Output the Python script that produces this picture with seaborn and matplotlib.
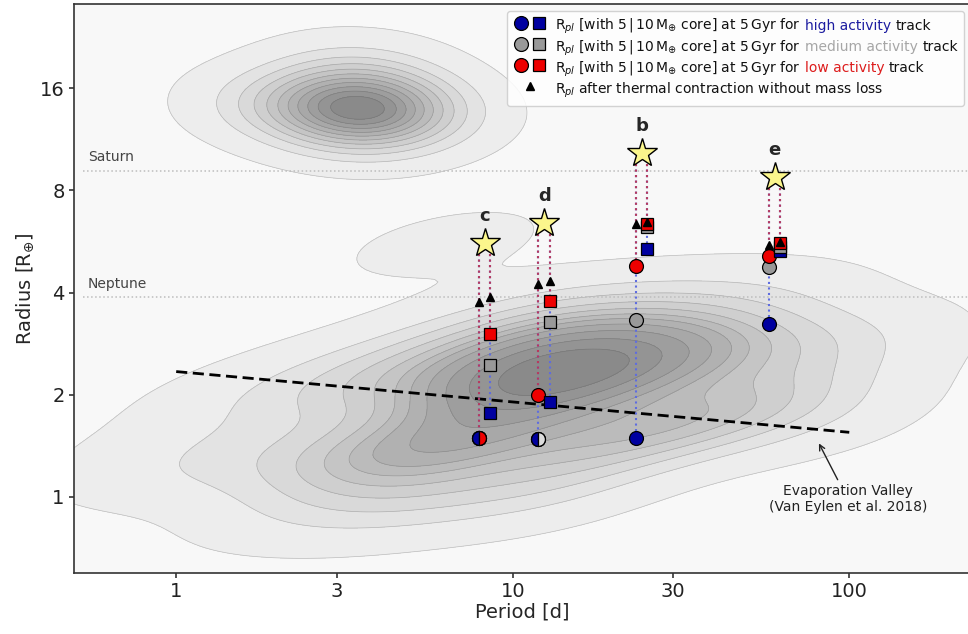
import numpy as np
import pandas as pd
import matplotlib
matplotlib.use("Agg")
import matplotlib.pyplot as plt
import seaborn as sns
from matplotlib.lines import Line2D
from matplotlib.colors import ListedColormap, BoundaryNorm
from matplotlib.ticker import NullLocator, FixedLocator, FixedFormatter
from matplotlib.offsetbox import AnchoredOffsetbox, HPacker, VPacker, TextArea, DrawingArea

# ---------------- data ----------------
# approximate population centres of the background exoplanet density map
# giant planets (hot Jupiters)
giant_period = [3.45, 2.05, 4.75, 3.45, 3.45]
giant_radius = [14.0, 14.3, 13.9, 17.5, 12.3]
giant_weight = [5, 1.0, 1.0, 1.0, 1.0]
# small planets (super-Earths and sub-Neptunes)
small_period = [13.4, 10, 18,
                3.5, 6, 1.5, 0.8,
                5, 12, 2.5,
                30, 55, 100, 40, 80,
                6, 12, 25, 50, 4,
                20, 10,
                3, 1.5, 60, 30,
                5.5, 8]
small_radius = [2.33, 2.2, 2.4,
                1.3, 1.45, 1.3, 1.25,
                1.0, 1.1, 0.95,
                2.6, 2.7, 2.7, 1.8, 1.7,
                2.6, 3.2, 3.4, 3.6, 2.0,
                1.5, 1.6,
                2.2, 1.9, 1.9, 1.6,
                5.4, 5.9]
small_weight = [14, 5, 5,
                4, 6, 2, 0.8,
                3, 3, 1.5,
                5, 3, 1.5, 3, 1,
                3, 4, 3, 1.5, 2,
                4, 4,
                2, 1, 2, 2,
                0.6, 0.35]

planet_names = ["c", "d", "b", "e"]
planet_period = [8.25, 12.40, 24.14, 60.0]
planet_radius = [5.59, 6.41, 10.27, 8.74]

# radius at 5 Gyr with 5 M_earth core (circles)
r5_high = [1.49, 1.48, 1.49, 3.23]
r5_med = [1.49, 1.48, 3.31, 4.75]
r5_low = [1.49, 1.99, 4.78, 5.13]
r5_contr = [3.76, 4.23, 6.35, 5.51]
# radius at 5 Gyr with 10 M_earth core (squares)
r10_high = [1.77, 1.90, 5.38, 5.30]
r10_med = [2.44, 3.28, 6.22, 5.45]
r10_low = [3.02, 3.77, 6.35, 5.60]
r10_contr = [3.89, 4.33, 6.47, 5.64]

valley_period = [1.0, 100.0]
valley_radius = [2.34, 1.55]

ref_names = ["Saturn", "Neptune"]
ref_radius = [9.14, 3.88]

x_ticks = [1, 3, 10, 30, 100]
y_ticks = [1, 2, 4, 8, 16]

# ---------------- style ----------------
sns.set_style("ticks")
plt.rcParams["font.family"] = ["DejaVu Sans"]
plt.rcParams["mathtext.fontset"] = "dejavusans"

BLUE = "#0000a0"
GRAY = "#999999"
RED = "#ee0000"
LIGHT = "#dcdcdc"

fig = plt.figure(figsize=(9.68, 6.34), dpi=100)
ax = fig.add_axes([74 / 968, 61 / 634, (971 - 74) / 968, (573 - 4) / 634])
ax.set_facecolor("#f8f8f8")

n_levels = 12
shades = [str(v) for v in np.linspace(0.93, 0.54, n_levels - 1)]


def density_layer(per, rad, wts, bw, th):
    xs = np.array(per, dtype=float)
    ys = np.array(rad, dtype=float)
    ws = np.array(wts, dtype=float)
    sns.kdeplot(x=xs, y=ys, weights=ws, log_scale=True, fill=True,
                levels=n_levels, thresh=th, bw_method=bw, cmap="Greys",
                ax=ax, zorder=0)
    cs = ax.collections[-1]
    cs.set_cmap(ListedColormap(shades))
    cs.set_norm(BoundaryNorm(cs.levels, len(cs.levels) - 1))
    sns.kdeplot(x=xs, y=ys, weights=ws, log_scale=True, fill=False,
                levels=n_levels, thresh=th, bw_method=bw, color="0.3",
                alpha=0.3, ax=ax, zorder=0)
    ax.collections[-1].set_linewidth(0.5)


density_layer(giant_period, giant_radius, giant_weight, 1.5, 0.02)
density_layer(small_period, small_radius, small_weight, 0.55, 0.02)

# reference planets
for name, r in zip(ref_names, ref_radius):
    ax.axhline(r, xmin=0.01, color="#bdbdbd", ls=":", lw=1.1, zorder=1)
    ax.text(0.547, r * 1.045, name, color="#444444", fontsize=10,
            ha="left", va="bottom", zorder=1)

# evaporation valley
ax.plot(valley_period, valley_radius, color="black", lw=2, ls=(0, (4, 2)), zorder=2)
ax.annotate("Evaporation Valley\n(Van Eylen et al. 2018)", xy=(80.9, 1.45),
            xytext=(99, 1.09), ha="center", va="top", fontsize=10, color="#222222",
            multialignment="center",
            arrowprops=dict(arrowstyle="->", color="#222222", lw=1,
                            shrinkA=1, shrinkB=1), zorder=2)

# tracks
for i in range(len(planet_names)):
    p0 = planet_period[i]
    rs = planet_radius[i]
    for fac, hi, md, lo, tr, mk, ms in [(0.96, r5_high, r5_med, r5_low, r5_contr, "o", 10),
                                         (1.04, r10_high, r10_med, r10_low, r10_contr, "s", 8)]:
        px = p0 * fac
        ax.plot([px, px], [rs, hi[i]], ls=":", color="#5e6ce0", lw=1.5, zorder=2)
        ax.plot([px, px], [rs, lo[i]], ls=":", color="#b83a5c", lw=1.5, zorder=2)
        for val, col in [(hi[i], BLUE), (md[i], GRAY), (lo[i], RED)]:
            ax.plot([px], [val], marker=mk, ms=ms, mfc=col, mec="black", mew=0.9,
                    ls="none", zorder=4)
        if mk == "o":
            if hi[i] == lo[i]:
                ax.plot([px], [hi[i]], marker="o", ms=ms, mfc=BLUE, mfcalt=RED,
                        fillstyle="left", mec="black", mew=0.9, ls="none", zorder=4.5)
            elif hi[i] == md[i]:
                ax.plot([px], [hi[i]], marker="o", ms=ms, mfc=BLUE, mfcalt=LIGHT,
                        fillstyle="left", mec="black", mew=0.9, ls="none", zorder=4.5)
        ax.plot([px], [tr[i]], marker="^", ms=6, mfc="black", mec="black",
                ls="none", zorder=5)

ax.plot(planet_period, planet_radius, marker="*", ms=22, mfc="#fbf68c", mec="black",
        mew=1, ls="none", zorder=6)
for name, p0, rs in zip(planet_names, planet_period, planet_radius):
    ax.annotate(name, (p0, rs), xytext=(0, 13), textcoords="offset points",
                ha="center", va="bottom", fontsize=13, fontweight="bold", zorder=6)

# axes
ax.set_xscale("log")
ax.set_yscale("log")
ax.set_xlim(0.497, 230)
ax.set_ylim(0.597, 28.3)
ax.xaxis.set_major_locator(FixedLocator(x_ticks))
ax.xaxis.set_major_formatter(FixedFormatter([str(v) for v in x_ticks]))
ax.yaxis.set_major_locator(FixedLocator(y_ticks))
ax.yaxis.set_major_formatter(FixedFormatter([str(v) for v in y_ticks]))
ax.xaxis.set_minor_locator(NullLocator())
ax.yaxis.set_minor_locator(NullLocator())
ax.tick_params(axis="both", labelsize=14, length=3.8, width=1.1, pad=3,
               colors="#222222")
for s in ax.spines.values():
    s.set_color("#333333")
    s.set_linewidth(1.2)
ax.set_xlabel("Period [d]", fontsize=14, labelpad=1)
ax.set_ylabel(r"Radius [R$_{\oplus}$]", fontsize=14, labelpad=3)

# legend with coloured words
prefix = r"R$_{pl}$ [with 5$\,|\,$10$\,$M$_{\oplus}$ core] at 5$\,$Gyr for"
track_words = ["high activity", "medium activity", "low activity"]
word_colors = ["#1c1ca0", "#a6a6a6", "#dd1c1c"]
marker_colors = [BLUE, GRAY, RED]
fs = 10
rows = []
for word, wc, mc in zip(track_words, word_colors, marker_colors):
    da = DrawingArea(24, 10, 0, 1.4)
    da.add_artist(Line2D([5.5], [5], marker="o", ms=10, mfc=mc, mec="black", mew=0.9, ls="none"))
    da.add_artist(Line2D([18.5], [5], marker="s", ms=8, mfc=mc, mec="black", mew=0.9, ls="none"))
    txt = HPacker(children=[TextArea(prefix, textprops=dict(size=fs, color="#111111")),
                            TextArea(word, textprops=dict(size=fs, color=wc)),
                            TextArea("track", textprops=dict(size=fs, color="#111111"))],
                  sep=3.2, pad=0, align="baseline")
    rows.append(HPacker(children=[da, txt], sep=6, pad=0, align="baseline"))
da = DrawingArea(24, 10, 0, 1.4)
da.add_artist(Line2D([12], [5], marker="^", ms=6, mfc="black", mec="black", ls="none"))
rows.append(HPacker(children=[da, TextArea(r"R$_{pl}$ after thermal contraction without mass loss",
                                           textprops=dict(size=fs, color="#111111"))],
                    sep=6, pad=0, align="baseline"))
vp = VPacker(children=rows, sep=1.3, pad=0, align="left")
box = AnchoredOffsetbox(loc="upper right", child=vp, pad=0.45, borderpad=0.5,
                        frameon=True, prop=dict(size=fs))
box.patch.set_boxstyle("round,pad=0,rounding_size=0.2")
box.patch.set_facecolor("white")
box.patch.set_alpha(0.85)
box.patch.set_edgecolor("#cccccc")
box.set_zorder(8)
ax.add_artist(box)

fig.savefig("out.png", dpi=100)
